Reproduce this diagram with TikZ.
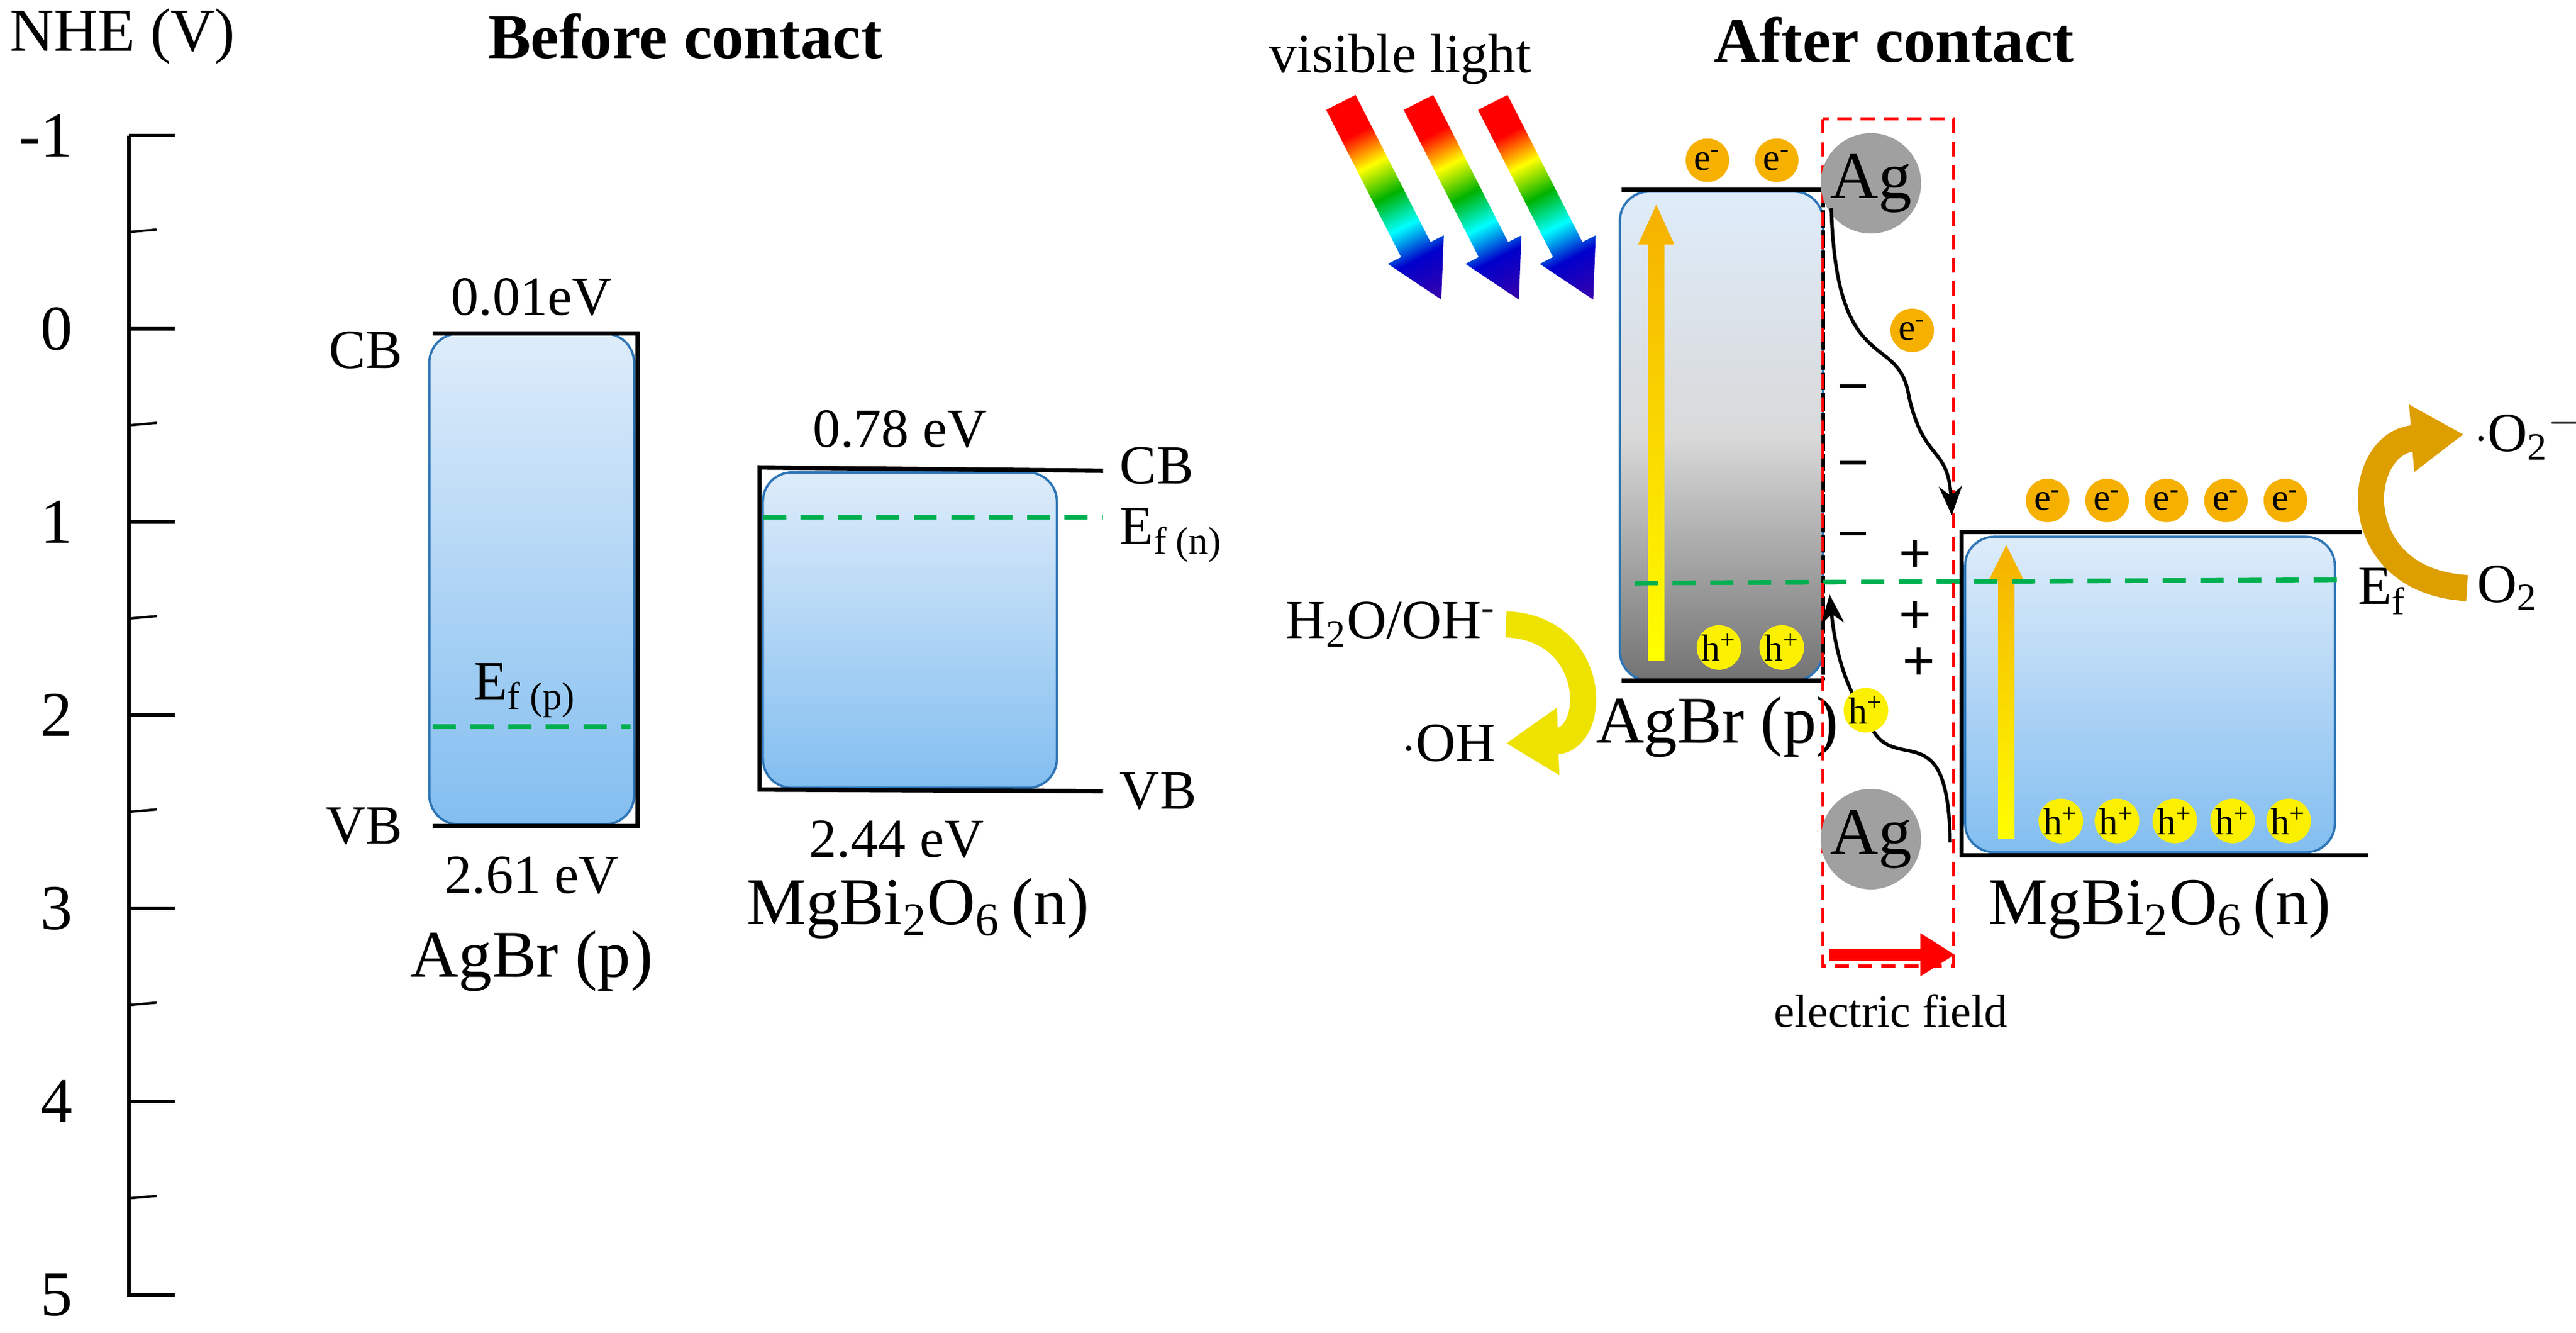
\documentclass[tikz,border=0pt]{standalone}
\usepackage{fontspec}
\setmainfont{Liberation Serif}
\usetikzlibrary{arrows.meta,calc}
\pgfdeclarehorizontalshading{rainbow}{100bp}{color(0bp)=(red);color(30bp)=(red);color(40bp)=(yellow);color(50bp)=(green!70!black);color(60bp)=(cyan);color(70bp)=(blue!80!black);color(100bp)=(violet)}
\definecolor{bbox}{RGB}{46,117,182}
\definecolor{btop}{RGB}{222,236,250}
\definecolor{bbot}{RGB}{130,190,240}
\definecolor{efg}{RGB}{0,176,80}
\definecolor{eorange}{RGB}{245,176,0}
\definecolor{hyel}{RGB}{250,240,0}
\definecolor{agg}{RGB}{160,160,160}
\begin{document}
\begin{tikzpicture}[x=0.02cm,y=-0.02cm,
  lab/.style={font=\fontsize{19}{20}\selectfont},
  tick/.style={font=\fontsize{22}{24}\selectfont,anchor=east},
  big/.style={font=\fontsize{23}{26}\selectfont},
  ttl/.style={font=\fontsize{22}{24}\selectfont\bfseries},
  band/.style={draw=bbox,line width=0.8pt,rounded corners=10pt,top color=btop,bottom color=bbot},
  lvl/.style={line width=1.5pt},
  ef/.style={efg,line width=1.6pt,dash pattern=on 8pt off 5pt},
  ec/.style={circle,fill=eorange,inner sep=0pt,minimum size=15pt,font=\fontsize{13}{14}\selectfont},
  hc/.style={circle,fill=hyel,inner sep=0pt,minimum size=15pt,font=\fontsize{13}{14}\selectfont},
  ag/.style={circle,fill=agg,inner sep=0pt,minimum size=32pt,font=\fontsize{23}{24}\selectfont},
  pm/.style={font=\fontsize{20}{22}\selectfont\bfseries},
  flow/.style={-{Stealth[length=10pt,width=8pt]},line width=1.2pt}
]
\useasboundingbox (0,0) rectangle (1560,807);
% axis
\node[lab,font=\fontsize{21}{22}\selectfont,anchor=west] (nhe) at (0,22) {NHE (V)};
\draw[line width=1.2pt] (78,82) -- (78,785);
\foreach \v [count=\i from 0] in {-1,0,1,2,3,4,5}{
  \draw[line width=1.2pt] (78,82+117*\i) -- (106,82+117*\i);
  \node[tick] at (50,82+117*\i) {\v};
}
\foreach \i in {0,...,5}{\draw[line width=0.8pt] (78,140.5+117*\i) -- (95,139+117*\i);}
\node[ttl] (bt) at (415,22) {Before contact};
% AgBr before
\path[band] (260,202) rectangle (384,499);
\draw[lvl] (262,202) -- (386,202) -- (386,500) -- (262,500);
\draw[ef] (262,440) -- (382,440);
\node[lab] at (318,418) {E\textsubscript{f (p)}};
\node[lab,anchor=east] (cb1) at (250,212) {CB};
\node[lab,anchor=east] (vb1) at (250,500) {VB};
\node[lab] at (322,180) {0.01eV};
\node[lab] at (322,530) {2.61 eV};
\node[big] at (322,582) {AgBr (p)};
% MgBi2O6 before
\path[band] (462,286) rectangle (640,477);
\draw[lvl] (668,285) -- (460,283) -- (460,478) -- (668,479);
\draw[ef] (462,313) -- (668,313);
\node[lab,anchor=west] at (672,282) {CB};
\node[lab,anchor=west] at (672,324) {E\textsubscript{f (n)}};
\node[lab,anchor=west] at (672,479) {VB};
\node[lab] at (545,260) {0.78 eV};
\node[lab] at (543,508) {2.44 eV};
\node[big] at (556,550) {MgBi\textsubscript{2}O\textsubscript{6}\,(n)};
% After contact
\node[ttl] (at) at (1147,24) {After contact};
\node[lab] (vl) at (848,36) {visible light};
\foreach \sx in {0,47,92}{
\begin{scope}[shift={(812+\sx,62)},rotate=-63]
\shade[shading=rainbow,shading angle=-63] (0,-10) -- (100,-10) -- (100,-19) -- (134,0) -- (100,19) -- (100,10) -- (0,10) -- cycle;
\end{scope}}
% AgBr after
\path[draw=bbox,line width=0.8pt,rounded corners=10pt,top color=btop,bottom color=black!55,middle color=black!15] (981,116) rectangle (1104,412);
\draw[lvl] (982,115) -- (1104,115);
\draw[lvl] (982,412) -- (1104,412);
\draw[line width=1.2pt,dash pattern=on 6pt off 1pt] (1104,115) -- (1104,412);
\shade[top color=eorange,bottom color=yellow] (998,400) -- (998,148) -- (992,148) -- (1003,124) -- (1014,148) -- (1008,148) -- (1008,400) -- cycle;
\node[ec] (e1) at (1034,97) {e\textsuperscript{-}};
\node[ec] (e2) at (1076,97) {e\textsuperscript{-}};
\node[hc] (h1) at (1041,392) {h\textsuperscript{+}};
\node[hc] (h2) at (1079,392) {h\textsuperscript{+}};
\node[big] (agbr) at (1040,440) {AgBr (p)};
% MgBi2O6 after
\path[band] (1190,325) rectangle (1414,516);
\draw[lvl] (1430,322) -- (1188,322) -- (1188,518) -- (1434,518);
\shade[top color=eorange,bottom color=yellow] (1210,508) -- (1210,352) -- (1204,352) -- (1215,330) -- (1226,352) -- (1220,352) -- (1220,508) -- cycle;
\foreach \x [count=\i] in {1240,1276,1312,1348,1384}{\node[ec] (ee\i) at (\x,303) {e\textsuperscript{-}};}
\foreach \x [count=\i] in {1248,1282,1317,1352,1386}{\node[hc] (hh\i) at (\x,497) {h\textsuperscript{+}};}
\node[big] (mg) at (1308,550) {MgBi\textsubscript{2}O\textsubscript{6}\,(n)};
\draw[ef] (990,353) -- (1418,351);
\node[lab,anchor=west] (ef2) at (1422,358) {E\textsubscript{f}};
% interface
\draw[red,line width=1.1pt,dash pattern=on 5pt off 3pt] (1104,72) rectangle (1183,585);
\coordinate (fs) at (1108,578);
\coordinate (fe) at (1184,578);
\draw[red,line width=4pt,-{Triangle[length=12pt,width=14pt]}] (fs) -- (fe);
\node[lab,font=\fontsize{16}{18}\selectfont] (efl) at (1145,612) {electric field};
\node[ag] (ag1) at (1133,111) {Ag};
\node[ag] (ag2) at (1133,508) {Ag};
\coordinate (a1s) at (1109,126);
\coordinate (a1e) at (1182,312);
\draw[flow] (a1s) .. controls (1112,230) and (1150,200) .. (1156,240) .. controls (1165,280) and (1180,270) .. (a1e);
\node[ec] (em) at (1158,200) {e\textsuperscript{-}};
\coordinate (a2s) at (1181,510);
\coordinate (a2e) at (1108,360);
\draw[flow] (a2s) .. controls (1180,430) and (1148,470) .. (1133,440) .. controls (1120,420) and (1112,400) .. (a2e);
\node[hc] (hm) at (1130,430) {h\textsuperscript{+}};
\foreach \y in {234,280,323}{\draw[line width=1.3pt] (1114,\y) -- (1130,\y);}
\node[pm] at (1160,337) {+};
\node[pm] at (1160,374) {+};
\node[pm] at (1162,402) {+};
% reactions
\node[lab,anchor=west] (o2m) at (1492,263) {$\cdot$O\textsubscript{2}\textsuperscript{$-$}};
\node[lab,anchor=west] (o2) at (1494,356) {O\textsubscript{2}};
\draw[eorange!90!black,line width=9pt,-{Triangle[length=18pt,width=22pt]}] (o2.west) .. controls (1420,352) and (1425,268) .. (o2m.west);
\node[lab,anchor=east] (h2o) at (912,378) {H\textsubscript{2}O/OH\textsuperscript{-}};
\node[lab,anchor=east] (oh) at (912,450) {$\cdot$OH};
\draw[yellow!85!olive,line width=9pt,-{Triangle[length=18pt,width=22pt]}] (h2o.east) .. controls (968,380) and (968,448) .. (oh.east);
\end{tikzpicture}
\end{document}
